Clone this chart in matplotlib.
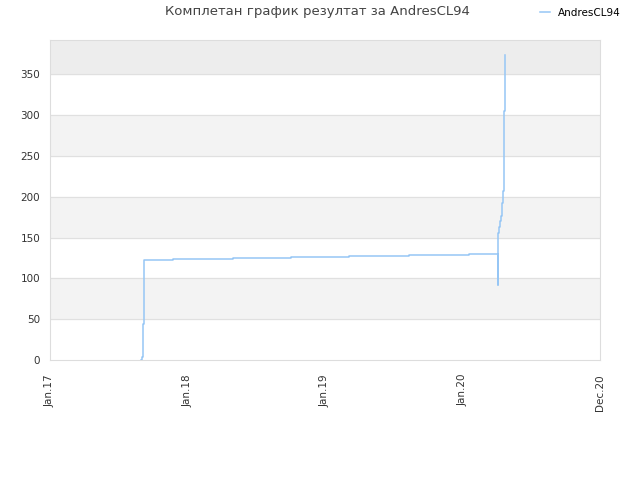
import matplotlib
matplotlib.use("Agg")
import matplotlib.pyplot as plt
from datetime import datetime

# data
dates = ["2017-09-01", "2017-09-03", "2017-09-05", "2017-09-08", "2017-11-25",
         "2018-05-01", "2018-10-04", "2019-03-07", "2019-08-13", "2020-01-18",
         "2020-04-04", "2020-04-05", "2020-04-07", "2020-04-10", "2020-04-12",
         "2020-04-15", "2020-04-18", "2020-04-20", "2020-04-23", "2020-04-24"]
values = [0, 4, 44, 122, 124,
          125, 126, 128, 129, 130,
          92, 155, 163, 170, 177,
          192, 207, 305, 373, 373]
tick_labels = ["Jan.17", "Jan.18", "Jan.19", "Jan.20", "Dec.20"]
tick_dates = ["2017-01-01", "2018-01-01", "2019-01-01", "2020-01-01", "2020-12-31"]
y_ticks = [0, 50, 100, 150, 200, 250, 300, 350]

x = [datetime.strptime(d, "%Y-%m-%d") for d in dates]
tx = [datetime.strptime(d, "%Y-%m-%d") for d in tick_dates]

fig = plt.figure(figsize=(6.4, 4.8), dpi=100)
ax = fig.add_axes([0.078, 0.25, 0.8595, 0.6667])

ymax = 392
# alternating bands
ax.axhspan(50, 100, color="#f3f3f3", zorder=0)
ax.axhspan(150, 200, color="#f3f3f3", zorder=0)
ax.axhspan(250, 300, color="#f3f3f3", zorder=0)
ax.axhspan(350, ymax, color="#ededed", zorder=0)
for v in y_ticks[1:]:
    ax.axhline(v, color="#e0e0e0", lw=0.8, zorder=1)

ax.plot(x, values, drawstyle="steps-post", color="#96c6f5", lw=1.1,
        label="AndresCL94", zorder=3)

ax.set_xlim(tx[0], tx[-1])
ax.set_ylim(0, ymax)
ax.set_xticks(tx)
ax.set_xticklabels(tick_labels, rotation=90, fontsize=7.5, color="#333333")
ax.set_yticks(y_ticks)
ax.set_yticklabels([str(v) for v in y_ticks], fontsize=7.5, color="#333333")
ax.tick_params(axis="y", length=0, pad=7)
ax.tick_params(axis="x", length=0, pad=10)
for s in ax.spines.values():
    s.set_color("#dddddd")

fig.text(0.496, 0.975, "Комплетан график резултат за AndresCL94", ha="center",
         va="center", fontsize=9.5, color="#444444")
fig.legend(loc="upper right", bbox_to_anchor=(0.985, 1.003), frameon=False,
           fontsize=7.5, handlelength=1.0, handletextpad=0.8)

fig.savefig("out.png", dpi=100)
